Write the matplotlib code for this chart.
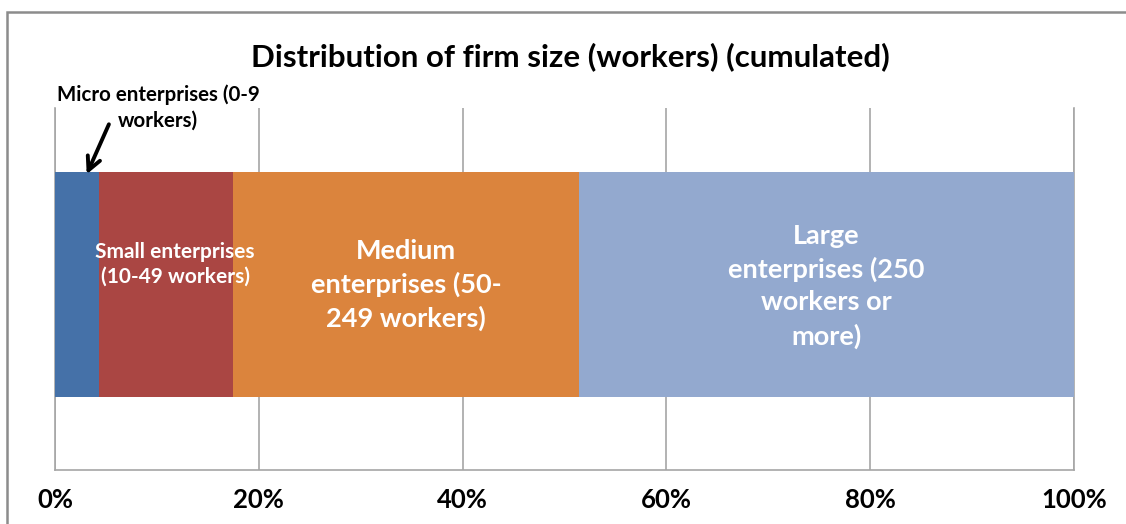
import matplotlib
matplotlib.use("Agg")
import matplotlib.pyplot as plt
from matplotlib.patches import Rectangle

plt.rcParams['font.family'] = ['Lato', 'DejaVu Sans']

# share of workers by firm size class (%)
categories = ['Micro enterprises (0-9\nworkers)',
              'Small enterprises\n(10-49 workers)',
              'Medium\nenterprises (50-\n249 workers)',
              'Large\nenterprises (250\nworkers or\nmore)']
shares = [4.3, 13.2, 33.9, 48.6]
colors = ['#4571A8', '#AA4643', '#DB843D', '#93A9CF']
ticks = [0, 20, 40, 60, 80, 100]
tick_labels = ['0%', '20%', '40%', '60%', '80%', '100%']

fig = plt.figure(figsize=(11.26, 5.24), dpi=100)
ax = fig.add_axes([55/1126, 1 - 470/524, 1019/1126, 362/524])

left = 0
bars = []
for val, col in zip(shares, colors):
    ax.barh(0.5125, val, left=left, height=0.62, color=col, zorder=3)
    bars.append((left, val))
    left += val

ax.set_xlim(0, 100)
ax.set_ylim(0, 1)
ax.set_xticks(ticks)
ax.set_xticklabels(tick_labels, fontsize=18.5, fontweight='bold')
ax.set_yticks([])
ax.tick_params(axis='x', length=0, pad=13)
ax.grid(axis='x', color='#A6A6A6', linewidth=1.2, zorder=0)
for s in ['left', 'right', 'bottom']:
    ax.spines[s].set_color('#A6A6A6')
    ax.spines[s].set_linewidth(1.2)
ax.spines['top'].set_visible(False)

# segment labels (the small one spills over its segment, as in the original)
ax.text(11.8, 0.568, categories[1], color='white', fontsize=15,
        fontweight='bold', ha='center', va='center', zorder=5, linespacing=1.28)
l0, w0 = bars[2]
ax.text(l0 + w0 / 2, 0.511, categories[2], color='white', fontsize=19.5,
        fontweight='bold', ha='center', va='center', zorder=5, linespacing=1.42)
l0, w0 = bars[3]
ax.text(l0 + w0 / 2, 0.508, categories[3], color='white', fontsize=19.5,
        fontweight='bold', ha='center', va='center', zorder=5, linespacing=1.42)

# micro annotation with arrow
ax.text(10.1, 1.0, categories[0], fontsize=14.8, fontweight='bold', ha='center',
        va='center', linespacing=1.35, clip_on=False, zorder=6)
ax.annotate('', xy=(3.0, 0.81), xytext=(5.4, 0.962),
            arrowprops=dict(arrowstyle='->', color='black', lw=2.8,
                            mutation_scale=24),
            annotation_clip=False, zorder=7)

fig.text(570/1126, 1 - 57/524, 'Distribution of firm size (workers) (cumulated)',
         fontsize=22.5, fontweight='bold', ha='center', va='center')

# chart frame, clipped by the image edges on right and bottom
fig.patches.append(Rectangle((7/1126, -0.1), 1.2, 1.1 - 12/524,
                             transform=fig.transFigure, fill=False,
                             edgecolor='#8C8C8C', linewidth=1.8, figure=fig))

fig.savefig('out.png', dpi=100)
